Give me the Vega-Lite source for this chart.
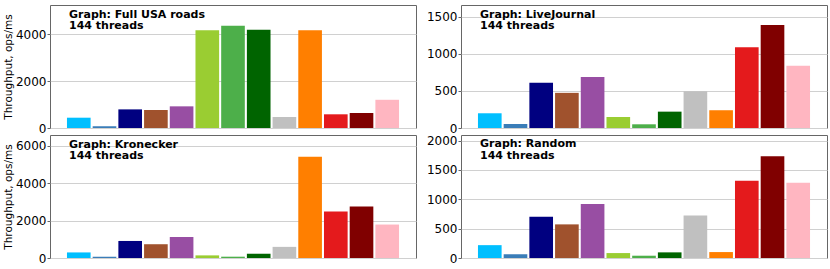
{
  "$schema": "https://vega.github.io/schema/vega-lite/v6.json",
  "background": "white",
  "padding": {"left": 2, "top": 4, "right": 4, "bottom": 4},
  "config": {
    "font": "DejaVu Sans",
    "view": {"stroke": "#666666", "strokeWidth": 1},
    "axis": {
      "domain": false,
      "tickColor": "#666666",
      "tickSize": 3,
      "labelFontSize": 12,
      "labelColor": "black",
      "labelPadding": 1,
      "gridColor": "#d0d0d0",
      "titleFontSize": 10.5,
      "titleFontWeight": "normal",
      "titleColor": "black",
      "titlePadding": 2,
      "format": "d"
    },
    "title": {
      "anchor": "start",
      "frame": "group",
      "orient": "top",
      "fontSize": 11,
      "fontWeight": "bold",
      "color": "black",
      "lineHeight": 11.5,
      "baseline": "top",
      "offset": -6,
      "dx": 19,
      "dy": 20
    }
  },
  "datasets": {
    "usa": [
      {"alg": "Alg 1", "throughput": 440},
      {"alg": "Alg 2", "throughput": 75},
      {"alg": "Alg 3", "throughput": 795},
      {"alg": "Alg 4", "throughput": 770},
      {"alg": "Alg 5", "throughput": 925},
      {"alg": "Alg 6", "throughput": 4170},
      {"alg": "Alg 7", "throughput": 4370},
      {"alg": "Alg 8", "throughput": 4200},
      {"alg": "Alg 9", "throughput": 470},
      {"alg": "Alg 10", "throughput": 4170},
      {"alg": "Alg 11", "throughput": 585},
      {"alg": "Alg 12", "throughput": 640},
      {"alg": "Alg 13", "throughput": 1205}
    ],
    "lj": [
      {"alg": "Alg 1", "throughput": 199},
      {"alg": "Alg 2", "throughput": 54},
      {"alg": "Alg 3", "throughput": 611},
      {"alg": "Alg 4", "throughput": 475},
      {"alg": "Alg 5", "throughput": 688},
      {"alg": "Alg 6", "throughput": 149},
      {"alg": "Alg 7", "throughput": 50},
      {"alg": "Alg 8", "throughput": 221},
      {"alg": "Alg 9", "throughput": 498},
      {"alg": "Alg 10", "throughput": 240},
      {"alg": "Alg 11", "throughput": 1090},
      {"alg": "Alg 12", "throughput": 1393},
      {"alg": "Alg 13", "throughput": 841}
    ],
    "kron": [
      {"alg": "Alg 1", "throughput": 298},
      {"alg": "Alg 2", "throughput": 70},
      {"alg": "Alg 3", "throughput": 912},
      {"alg": "Alg 4", "throughput": 737},
      {"alg": "Alg 5", "throughput": 1123},
      {"alg": "Alg 6", "throughput": 140},
      {"alg": "Alg 7", "throughput": 70},
      {"alg": "Alg 8", "throughput": 228},
      {"alg": "Alg 9", "throughput": 596},
      {"alg": "Alg 10", "throughput": 5420},
      {"alg": "Alg 11", "throughput": 2490},
      {"alg": "Alg 12", "throughput": 2755},
      {"alg": "Alg 13", "throughput": 1790}
    ],
    "random": [
      {"alg": "Alg 1", "throughput": 219},
      {"alg": "Alg 2", "throughput": 62},
      {"alg": "Alg 3", "throughput": 702},
      {"alg": "Alg 4", "throughput": 573},
      {"alg": "Alg 5", "throughput": 921},
      {"alg": "Alg 6", "throughput": 84},
      {"alg": "Alg 7", "throughput": 39},
      {"alg": "Alg 8", "throughput": 96},
      {"alg": "Alg 9", "throughput": 725},
      {"alg": "Alg 10", "throughput": 101},
      {"alg": "Alg 11", "throughput": 1315},
      {"alg": "Alg 12", "throughput": 1736},
      {"alg": "Alg 13", "throughput": 1281}
    ]
  },
  "columns": 2,
  "bounds": "flush",
  "spacing": {"row": 7, "column": 45},
  "concat": [
    {
      "data": {"name": "usa"},
      "width": 366,
      "height": 123,
      "title": {"text": ["Graph: Full USA roads", "144 threads"]},
      "mark": {"type": "bar"},
      "encoding": {
        "x": {"field": "alg", "type": "nominal", "sort": null, "axis": null, "scale": {"paddingInner": 0.08, "paddingOuter": 0.66}},
        "y": {"field": "throughput", "type": "quantitative", "scale": {"domain": [0, 5253], "nice": false}, "axis": {"values": [0, 2000, 4000], "title": "Throughput, ops/ms"}},
        "color": {"field": "alg", "type": "nominal", "sort": null, "legend": null, "scale": {"domain": ["Alg 1", "Alg 2", "Alg 3", "Alg 4", "Alg 5", "Alg 6", "Alg 7", "Alg 8", "Alg 9", "Alg 10", "Alg 11", "Alg 12", "Alg 13"], "range": ["#00BFFF", "#3A7DB8", "#000080", "#A0522D", "#984EA3", "#9ACD32", "#4DAF4A", "#006400", "#C0C0C0", "#FF7F00", "#E41A1C", "#800000", "#FFB6C1"]}}
      }
    },
    {
      "data": {"name": "lj"},
      "width": 366,
      "height": 123,
      "title": {"text": ["Graph: LiveJournal", "144 threads"]},
      "mark": {"type": "bar"},
      "encoding": {
        "x": {"field": "alg", "type": "nominal", "sort": null, "axis": null, "scale": {"paddingInner": 0.08, "paddingOuter": 0.66}},
        "y": {"field": "throughput", "type": "quantitative", "scale": {"domain": [0, 1662], "nice": false}, "axis": {"values": [0, 500, 1000, 1500], "title": null}},
        "color": {"field": "alg", "type": "nominal", "sort": null, "legend": null, "scale": {"domain": ["Alg 1", "Alg 2", "Alg 3", "Alg 4", "Alg 5", "Alg 6", "Alg 7", "Alg 8", "Alg 9", "Alg 10", "Alg 11", "Alg 12", "Alg 13"], "range": ["#00BFFF", "#3A7DB8", "#000080", "#A0522D", "#984EA3", "#9ACD32", "#4DAF4A", "#006400", "#C0C0C0", "#FF7F00", "#E41A1C", "#800000", "#FFB6C1"]}}
      }
    },
    {
      "data": {"name": "kron"},
      "width": 366,
      "height": 123,
      "title": {"text": ["Graph: Kronecker", "144 threads"]},
      "mark": {"type": "bar"},
      "encoding": {
        "x": {"field": "alg", "type": "nominal", "sort": null, "axis": null, "scale": {"paddingInner": 0.08, "paddingOuter": 0.66}},
        "y": {"field": "throughput", "type": "quantitative", "scale": {"domain": [0, 6582], "nice": false}, "axis": {"values": [0, 2000, 4000, 6000], "title": "Throughput, ops/ms"}},
        "color": {"field": "alg", "type": "nominal", "sort": null, "legend": null, "scale": {"domain": ["Alg 1", "Alg 2", "Alg 3", "Alg 4", "Alg 5", "Alg 6", "Alg 7", "Alg 8", "Alg 9", "Alg 10", "Alg 11", "Alg 12", "Alg 13"], "range": ["#00BFFF", "#3A7DB8", "#000080", "#A0522D", "#984EA3", "#9ACD32", "#4DAF4A", "#006400", "#C0C0C0", "#FF7F00", "#E41A1C", "#800000", "#FFB6C1"]}}
      }
    },
    {
      "data": {"name": "random"},
      "width": 366,
      "height": 123,
      "title": {"text": ["Graph: Random", "144 threads"]},
      "mark": {"type": "bar"},
      "encoding": {
        "x": {"field": "alg", "type": "nominal", "sort": null, "axis": null, "scale": {"paddingInner": 0.08, "paddingOuter": 0.66}},
        "y": {"field": "throughput", "type": "quantitative", "scale": {"domain": [0, 2096], "nice": false}, "axis": {"values": [0, 500, 1000, 1500, 2000], "title": null}},
        "color": {"field": "alg", "type": "nominal", "sort": null, "legend": null, "scale": {"domain": ["Alg 1", "Alg 2", "Alg 3", "Alg 4", "Alg 5", "Alg 6", "Alg 7", "Alg 8", "Alg 9", "Alg 10", "Alg 11", "Alg 12", "Alg 13"], "range": ["#00BFFF", "#3A7DB8", "#000080", "#A0522D", "#984EA3", "#9ACD32", "#4DAF4A", "#006400", "#C0C0C0", "#FF7F00", "#E41A1C", "#800000", "#FFB6C1"]}}
      }
    }
  ]
}
